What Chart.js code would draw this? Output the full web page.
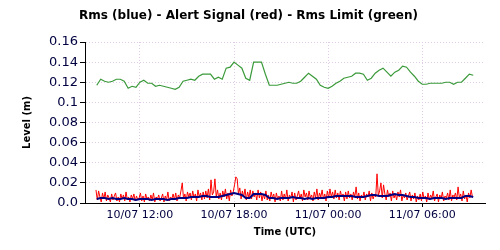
<!DOCTYPE html>
<html lang="en">

<head>
  <meta charset="UTF-8">
  <title>Rms - Alert Signal - Rms Limit</title>
  <script src="https://cdn.jsdelivr.net/npm/chart.js@4.4.4/dist/chart.umd.min.js"></script>
  <style>
    body { margin: 0; background: #fff; }
    #wrap { width: 500px; height: 250px; }
  </style>
</head>

<body>
  <div id="wrap"><canvas id="levelChart"></canvas></div>

  <script>
    // time axis in hours counted from 10/07 00:00 UTC
    const xMin = 8.5;
    const xMax = 34.0;
    const xTicks = [12, 18, 24, 30];
    const yTicks = [0, 0.02, 0.04, 0.06, 0.08, 0.1, 0.12, 0.14, 0.16];

    // Rms limit (green) + Rms (blue): one sample every 15 min from 09:15
    const limitStart = 9.25;
    const limitStep = 0.25;
    const rmsLimit = [
      0.117, 0.123, 0.121, 0.120, 0.121, 0.123, 0.123, 0.121, 0.114, 0.116, 0.115, 0.120,
      0.122, 0.119, 0.119, 0.116, 0.117, 0.116, 0.115, 0.114, 0.113, 0.115, 0.121, 0.122,
      0.123, 0.122, 0.126, 0.128, 0.128, 0.128, 0.123, 0.125, 0.123, 0.134, 0.135, 0.140,
      0.137, 0.134, 0.124, 0.122, 0.140, 0.140, 0.140, 0.128, 0.117, 0.117, 0.117, 0.118,
      0.119, 0.120, 0.119, 0.119, 0.121, 0.125, 0.129, 0.126, 0.123, 0.117, 0.115, 0.114,
      0.116, 0.119, 0.121, 0.124, 0.125, 0.126, 0.129, 0.129, 0.128, 0.122, 0.124, 0.129,
      0.132, 0.134, 0.130, 0.126, 0.130, 0.132, 0.136, 0.135, 0.130, 0.126, 0.121, 0.118,
      0.118, 0.119, 0.119, 0.119, 0.119, 0.120, 0.120, 0.118, 0.120, 0.120, 0.124, 0.128,
      0.127
    ];
    const rms = [
      0.004, 0.005, 0.005, 0.004, 0.005, 0.004, 0.004, 0.005, 0.004, 0.004, 0.003, 0.004,
      0.004, 0.004, 0.003, 0.004, 0.004, 0.004, 0.003, 0.004, 0.004, 0.005, 0.005, 0.005,
      0.006, 0.006, 0.006, 0.007, 0.007, 0.006, 0.006, 0.006, 0.007, 0.008, 0.009, 0.010,
      0.009, 0.008, 0.005, 0.005, 0.009, 0.009, 0.009, 0.008, 0.005, 0.005, 0.004, 0.005,
      0.005, 0.005, 0.006, 0.005, 0.005, 0.004, 0.005, 0.004, 0.005, 0.005, 0.005, 0.006,
      0.006, 0.007, 0.007, 0.007, 0.007, 0.007, 0.006, 0.006, 0.006, 0.007, 0.008, 0.008,
      0.007, 0.007, 0.007, 0.008, 0.009, 0.008, 0.008, 0.007, 0.006, 0.006, 0.005, 0.005,
      0.005, 0.004, 0.005, 0.005, 0.005, 0.004, 0.005, 0.005, 0.005, 0.005, 0.007, 0.007,
      0.006
    ];

    // Alert signal (red): one sample every 5 min from 09:12, one row per hour
    const alertStart = 9.2;
    const alertStep = 1 / 12;
    const alertSignal = [
      0.013, 0.003, 0.012, 0.006, 0.001, 0.010, 0.004, 0.011, 0.002, 0.008, 0.005, 0.001,
      0.009, 0.003, 0.007, 0.010, 0.002, 0.006, 0.001, 0.009, 0.004, 0.008, 0.002, 0.011,
      0.003, 0.006, 0.001, 0.008, 0.004, 0.009, 0.002, 0.007, 0.003, 0.005, 0.010, 0.002,
      0.007, 0.001, 0.009, 0.004, 0.006, 0.002, 0.008, 0.003, 0.010, 0.001, 0.006, 0.004,
      0.008, 0.002, 0.005, 0.009, 0.001, 0.007, 0.003, 0.011, 0.002, 0.006, 0.004, 0.009,
      0.003, 0.010, 0.002, 0.008, 0.005, 0.012, 0.020, 0.004, 0.009, 0.002, 0.011, 0.006,
      0.010, 0.003, 0.012, 0.005, 0.009, 0.002, 0.013, 0.006, 0.010, 0.003, 0.011, 0.004,
      0.012, 0.005, 0.014, 0.003, 0.023, 0.008, 0.011, 0.024, 0.006, 0.013, 0.004, 0.010,
      0.003, 0.012, 0.006, 0.014, 0.004, 0.010, 0.002, 0.013, 0.007, 0.011, 0.018, 0.026,
      0.024, 0.009, 0.015, 0.004, 0.012, 0.006, 0.014, 0.003, 0.011, 0.005, 0.013, 0.004,
      0.012, 0.006, 0.010, 0.003, 0.013, 0.005, 0.011, 0.002, 0.009, 0.004, 0.012, 0.003,
      0.008, 0.002, 0.011, 0.005, 0.009, 0.001, 0.010, 0.004, 0.007, 0.002, 0.012, 0.003,
      0.009, 0.004, 0.013, 0.002, 0.008, 0.005, 0.011, 0.001, 0.010, 0.003, 0.007, 0.012,
      0.004, 0.009, 0.002, 0.013, 0.006, 0.010, 0.003, 0.012, 0.005, 0.008, 0.002, 0.011,
      0.005, 0.014, 0.003, 0.010, 0.006, 0.013, 0.004, 0.009, 0.002, 0.012, 0.005, 0.014,
      0.006, 0.011, 0.004, 0.013, 0.005, 0.010, 0.003, 0.012, 0.006, 0.009, 0.002, 0.011,
      0.004, 0.012, 0.005, 0.009, 0.003, 0.011, 0.006, 0.016, 0.004, 0.010, 0.002, 0.008,
      0.005, 0.011, 0.003, 0.009, 0.006, 0.012, 0.002, 0.010, 0.004, 0.008, 0.006, 0.029,
      0.007, 0.012, 0.020, 0.005, 0.018, 0.009, 0.003, 0.013, 0.006, 0.010, 0.002, 0.012,
      0.005, 0.009, 0.003, 0.011, 0.006, 0.013, 0.002, 0.008, 0.005, 0.010, 0.003, 0.007,
      0.011, 0.002, 0.008, 0.004, 0.010, 0.001, 0.007, 0.003, 0.009, 0.002, 0.011, 0.004,
      0.007, 0.001, 0.010, 0.003, 0.008, 0.005, 0.012, 0.002, 0.006, 0.009, 0.001, 0.008,
      0.004, 0.011, 0.002, 0.007, 0.005, 0.010, 0.003, 0.013, 0.002, 0.008, 0.006, 0.010,
      0.003, 0.016, 0.005, 0.009, 0.002, 0.012, 0.004, 0.008, 0.001, 0.010, 0.005, 0.013,
      0.006
    ];

    const toPoints = (values, start, step) => values.map((v, i) => ({ x: start + i * step, y: v }));

    const pad2 = n => String(n).padStart(2, '0');
    const timeLabel = h => {
      const day = 10 + Math.floor(h / 24);
      const hour = Math.round(h % 24);
      return `${pad2(day)}/07 ${pad2(hour)}:00`;
    };

    const gridColor = '#e0cde5';
    const fontFamily = "'DejaVu Sans', Verdana, sans-serif";

    new Chart(document.getElementById('levelChart'), {
      type: 'line',
      data: {
        datasets: [
          {
            label: 'Rms',
            data: toPoints(rms, limitStart, limitStep),
            borderColor: '#000080',
            borderWidth: 2,
            order: 0
          },
          {
            label: 'Alert Signal',
            data: toPoints(alertSignal, alertStart, alertStep),
            borderColor: '#ff0000',
            borderWidth: 1,
            order: 1
          },
          {
            label: 'Rms Limit',
            data: toPoints(rmsLimit, limitStart, limitStep),
            borderColor: '#3a9a3a',
            borderWidth: 1.2,
            order: 2
          }
        ]
      },
      options: {
        responsive: true,
        maintainAspectRatio: false,
        animation: false,
        devicePixelRatio: 1,
        layout: { padding: { left: 12, right: 15, top: 0, bottom: 0 } },
        elements: {
          point: { radius: 0 },
          line: { tension: 0 }
        },
        plugins: {
          legend: { display: false },
          tooltip: { enabled: false },
          title: {
            display: true,
            text: 'Rms (blue) - Alert Signal (red) - Rms Limit (green)',
            color: '#000',
            font: { family: fontFamily, size: 12, weight: 'bold' },
            padding: { top: 9, bottom: 18.6 }
          }
        },
        scales: {
          x: {
            type: 'linear',
            min: xMin,
            max: xMax,
            afterBuildTicks: scale => { scale.ticks = xTicks.map(v => ({ value: v })); },
            afterFit: scale => { scale.height = 47; },
            ticks: {
              color: '#000040',
              font: { family: fontFamily, size: 11 },
              padding: 2,
              maxRotation: 0,
              callback: v => timeLabel(v)
            },
            grid: {
              color: gridColor,
              tickColor: '#000',
              tickLength: 4
            },
            border: { color: '#000', width: 1, dash: [1, 2] },
            title: {
              display: true,
              text: 'Time (UTC)',
              color: '#000',
              font: { family: fontFamily, size: 10, weight: 'bold' },
              padding: { top: 0, bottom: 12 }
            }
          },
          y: {
            min: 0,
            max: 0.16,
            afterBuildTicks: scale => { scale.ticks = yTicks.map(v => ({ value: v })); },
            afterFit: scale => { scale.width = 73; },
            ticks: {
              color: '#000040',
              font: { family: fontFamily, size: 13 },
              padding: 2,
              callback: v => (v === 0 ? '0.0' : String(+v.toFixed(2)))
            },
            grid: {
              color: gridColor,
              tickColor: '#000',
              tickLength: 5
            },
            border: { color: '#000', width: 1, dash: [1, 2] },
            title: {
              display: true,
              text: 'Level (m)',
              color: '#000',
              font: { family: fontFamily, size: 10, weight: 'bold' },
              padding: { top: 9, bottom: 0 }
            }
          }
        }
      }
    });
  </script>
</body>
</html>
